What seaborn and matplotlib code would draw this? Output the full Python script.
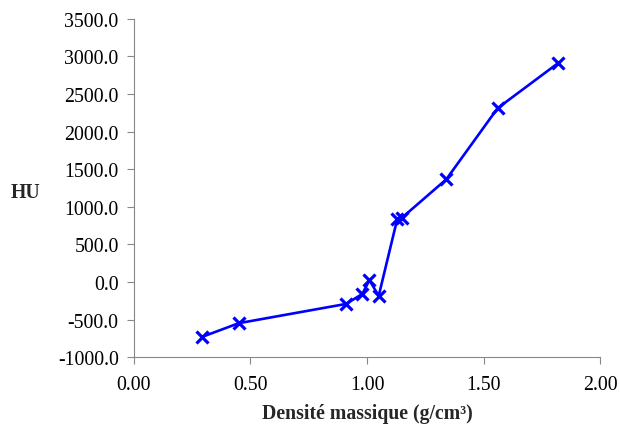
import matplotlib
matplotlib.use("Agg")
import matplotlib.pyplot as plt
import seaborn as sns
import pandas as pd

# --- Data ---
densite = [0.29, 0.45, 0.91, 0.98, 1.01, 1.05, 1.13, 1.15, 1.34, 1.56, 1.82]
hu = [-733, -548, -292, -159, 25, -185, 842, 855, 1365, 2311, 2912]

x_ticks = [0.0, 0.5, 1.0, 1.5, 2.0]
y_ticks = [-1000, -500, 0, 500, 1000, 1500, 2000, 2500, 3000, 3500]

df = pd.DataFrame({"densite": densite, "hu": hu})

sns.set_theme(style="white")
plt.rcParams["font.family"] = ["Liberation Serif", "DejaVu Serif"]

fig = plt.figure(figsize=(6.2, 4.31), dpi=100)
ax = fig.add_axes([0.216, 0.169, 0.752, 0.785])

sns.lineplot(data=df, x="densite", y="hu", sort=False, estimator=None,
             color="#0000ff", linewidth=1.9, marker="x", markersize=9,
             markeredgewidth=2.3, markeredgecolor="#0000ff", ax=ax)

ax.set_xlim(0, 2)
ax.set_ylim(-1000, 3500)
ax.set_xticks(x_ticks)
ax.set_yticks(y_ticks)
ax.set_xticklabels([f"{v:.2f}" for v in x_ticks])
ax.set_yticklabels([f"{v:.1f}" for v in y_ticks])
ax.tick_params(axis="both", labelsize=14.3, colors="black", length=5,
               width=0.8, direction="out", color="#888888")
ax.tick_params(axis="x", pad=8)
ax.tick_params(axis="y", pad=6)
ax.xaxis.set_ticks_position("bottom")
ax.yaxis.set_ticks_position("left")

for s in ["top", "right"]:
    ax.spines[s].set_visible(False)
for s in ["left", "bottom"]:
    ax.spines[s].set_color("#888888")
    ax.spines[s].set_linewidth(0.8)

ax.set_xlabel("Densité massique (g/cm³)", fontsize=14.2, fontweight="bold",
              labelpad=6)
ax.set_ylabel("")
fig.text(0.041, 0.553, "HU", fontsize=14.2, fontweight="bold",
         ha="center", va="center")

fig.savefig("out.png", dpi=100)
